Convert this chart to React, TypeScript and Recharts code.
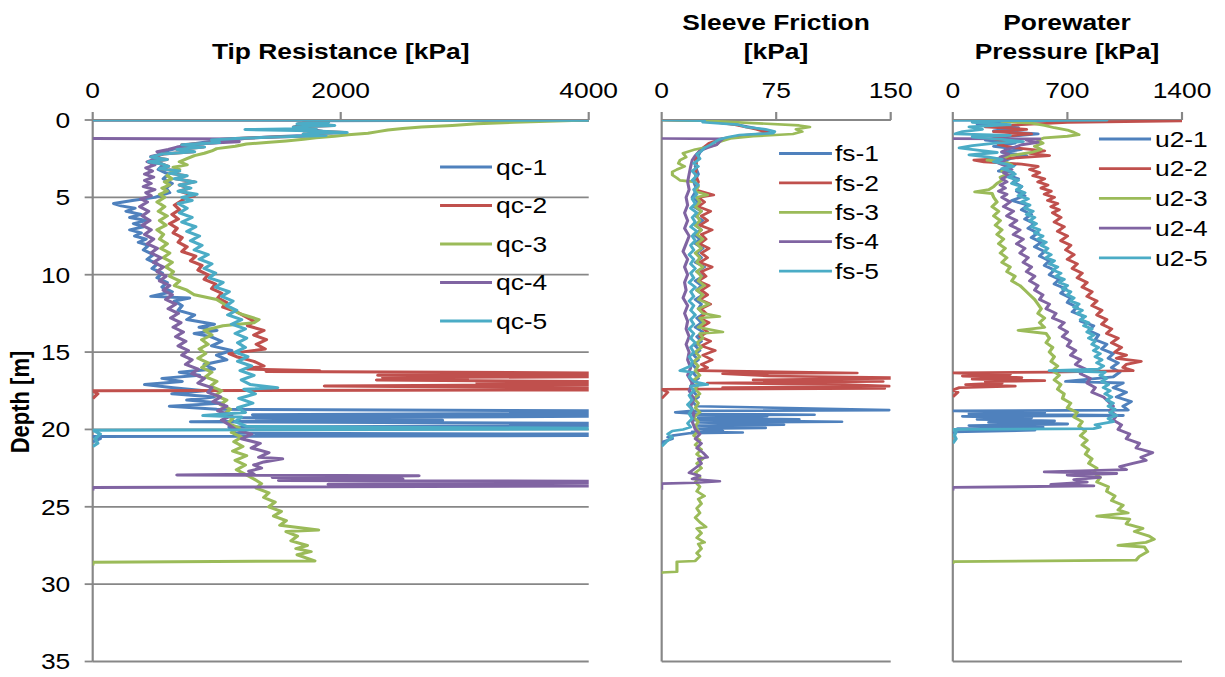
import React from "react";
import { ScatterChart, Scatter, XAxis, YAxis, CartesianGrid } from "recharts";

// the reference image is stretched horizontally, so the chart is laid out narrower and scaled in x
const SX = 1.2;
const H = 677;
const W = 1225 / SX;
const FONT = '"Liberation Sans", Arial, Helvetica, sans-serif';
const AXIS = "#878787";
const COLORS = ["#4F81BD", "#C0504D", "#9BBB59", "#8064A2", "#4BACC6"];
const DEPTH_TICKS = [0, 5, 10, 15, 20, 25, 30, 35];

type Pt = [number, number]; // [depth m, value kPa]

// ---- tip resistance qc [kPa]
const QC_TICKS = [0, 2000, 4000];
const QC_NAMES = ["qc-1", "qc-2", "qc-3", "qc-4", "qc-5"];
const qc1: Pt[] = [[0,0],[0.01,4000],[0.05,1700],[0.2,1820],[0.4,1640],[0.6,1760],[0.8,1900],[1.0,1690],[1.2,1180],[1.4,930],[1.6,760],[1.8,690],[2.0,600],[2.3,530],[2.6,500],[2.9,570],[3.2,530],[3.5,610],[3.8,570],[4.1,640],[4.4,590],[4.7,620],[5.0,500],[5.2,320],[5.4,170],[5.55,230],[5.7,340],[5.9,270],[6.1,390],[6.3,300],[6.5,430],[6.7,330],[6.9,410],[7.1,300],[7.3,390],[7.5,340],[7.7,430],[7.9,370],[8.1,450],[8.4,410],[8.7,490],[9.0,440],[9.3,520],[9.6,480],[9.9,560],[10.2,520],[10.5,600],[10.8,560],[11.1,640],[11.4,470],[11.5,780],[11.7,660],[12.0,720],[12.3,690],[12.6,820],[12.9,760],[13.2,980],[13.4,860],[13.6,1000],[13.8,820],[14.0,950],[14.3,1040],[14.6,960],[14.9,1120],[15.2,1000],[15.5,1080],[15.8,900],[16.1,980],[16.3,700],[16.5,860],[16.7,560],[16.9,720],[17.1,420],[17.3,650],[17.5,900],[17.7,640],[17.9,980],[18.1,760],[18.3,1050],[18.5,620],[18.7,1000],[18.8,4000],[18.95,4000],[19.05,1290],[19.15,4000],[19.25,1200],[19.4,2820],[19.5,790],[19.6,4000],[19.75,4000],[19.85,1100],[20.25,1150],[20.3,4000],[20.4,4000],[20.45,0],[20.6,60],[20.8,0]];
const qc2: Pt[] = [[0,0],[0.01,4000],[0.04,1750],[0.15,1880],[0.25,1660],[0.35,1940],[0.45,1620],[0.55,1790],[0.7,1740],[0.8,2030],[0.9,1700],[1.0,1870],[1.1,1470],[1.2,1150],[1.3,960],[1.45,1010],[1.6,720],[1.75,890],[1.9,680],[2.05,810],[2.2,570],[2.4,480],[2.55,600],[2.7,460],[2.85,560],[3.0,610],[3.15,550],[3.3,690],[3.45,630],[3.6,750],[3.8,670],[4.0,820],[4.2,700],[4.4,780],[4.6,700],[4.9,820],[5.0,760],[5.2,720],[5.5,660],[5.8,700],[6.1,640],[6.4,690],[6.7,620],[7.0,680],[7.3,650],[7.6,720],[7.9,690],[8.2,760],[8.5,720],[8.8,830],[9.1,790],[9.4,880],[9.7,850],[10.0,930],[10.3,900],[10.6,990],[10.9,960],[11.2,1040],[11.5,1010],[11.8,1080],[12.1,1050],[12.4,1160],[12.7,1230],[13.0,1300],[13.3,1250],[13.6,1380],[13.9,1300],[14.2,1400],[14.5,1320],[14.8,1390],[15.1,1100],[15.3,1160],[15.6,1300],[15.9,1380],[16.0,1300],[16.1,1250],[16.2,1830],[16.25,1400],[16.35,4000],[16.42,4000],[16.5,2300],[16.6,4000],[16.65,2340],[16.75,3020],[16.8,2290],[16.9,4000],[17.0,3100],[17.1,4000],[17.2,1870],[17.3,4000],[17.45,4000],[17.5,0],[17.7,40],[18.0,0]];
const qc3: Pt[] = [[0,4000],[0.15,3400],[0.25,3100],[0.35,2900],[0.45,2650],[0.55,2500],[0.65,2380],[0.75,2300],[0.85,2220],[0.95,2060],[1.05,1950],[1.15,1800],[1.25,1700],[1.35,1560],[1.45,1400],[1.55,1240],[1.7,1150],[1.85,1000],[2.0,960],[2.15,900],[2.3,820],[2.5,760],[2.7,700],[2.9,760],[3.05,650],[3.2,700],[3.4,630],[3.6,600],[3.8,640],[4.0,580],[4.2,620],[4.4,560],[4.6,600],[4.8,540],[5.0,580],[5.3,520],[5.6,580],[5.9,530],[6.2,600],[6.5,540],[6.8,590],[7.1,520],[7.4,570],[7.7,540],[8.0,600],[8.3,550],[8.6,620],[8.9,570],[9.2,640],[9.5,590],[9.8,650],[10.1,620],[10.4,700],[10.7,660],[11.0,760],[11.3,820],[11.6,1000],[11.9,1060],[12.2,1120],[12.5,1180],[12.7,1260],[12.9,1340],[13.1,1300],[13.3,1050],[13.6,900],[13.9,960],[14.2,880],[14.5,930],[14.8,860],[15.1,910],[15.4,850],[15.7,930],[16.0,880],[16.3,960],[16.6,910],[16.9,1000],[17.2,950],[17.5,1040],[17.8,990],[18.1,1080],[18.4,1030],[18.7,1110],[19.0,1060],[19.3,1130],[19.6,1090],[19.9,1180],[20.2,1120],[20.5,1200],[20.8,1140],[21.1,1210],[21.4,1130],[21.7,1240],[22.0,1150],[22.3,1230],[22.6,1160],[22.9,1230],[23.2,1300],[23.5,1360],[23.8,1320],[24.1,1420],[24.4,1380],[24.7,1470],[25.0,1420],[25.3,1520],[25.6,1460],[25.9,1560],[26.2,1510],[26.5,1820],[26.6,1560],[26.9,1650],[27.2,1600],[27.5,1730],[27.7,1640],[27.9,1760],[28.1,1650],[28.3,1720],[28.5,1790],[28.58,0],[28.8,0]];
const qc4: Pt[] = [[1.2,0],[1.22,1210],[1.3,1020],[1.4,1180],[1.5,920],[1.6,800],[1.75,680],[1.9,610],[2.05,520],[2.2,560],[2.35,470],[2.5,510],[2.7,440],[2.9,500],[3.1,430],[3.3,480],[3.5,420],[3.7,490],[3.9,420],[4.1,470],[4.3,410],[4.5,500],[4.7,430],[4.9,470],[5.1,390],[5.3,440],[5.6,380],[5.9,450],[6.2,400],[6.5,460],[6.8,400],[7.1,470],[7.4,420],[7.7,490],[8.0,440],[8.3,520],[8.6,470],[8.9,550],[9.2,490],[9.5,570],[9.8,520],[10.1,590],[10.4,540],[10.7,620],[11.0,570],[11.3,640],[11.6,590],[11.9,670],[12.2,610],[12.5,690],[12.8,630],[13.1,710],[13.4,650],[13.7,730],[14.0,670],[14.3,750],[14.6,690],[14.9,770],[15.2,720],[15.5,800],[15.8,750],[16.1,850],[16.4,800],[16.7,900],[17.0,850],[17.3,960],[17.6,930],[17.9,1030],[18.2,970],[18.5,1080],[18.8,1010],[19.1,1120],[19.4,1040],[19.7,1100],[20.0,1150],[20.3,1280],[20.6,1200],[20.9,1350],[21.2,1280],[21.5,1420],[21.8,1340],[21.9,1530],[22.1,1380],[22.3,1300],[22.5,1360],[22.7,1260],[22.9,1300],[22.95,680],[23.0,2630],[23.1,1450],[23.2,2500],[23.3,1500],[23.35,4000],[23.45,4000],[23.55,1900],[23.65,4000],[23.75,0],[23.95,0]];
const qc5: Pt[] = [[0,0],[0.01,4000],[0.04,1750],[0.15,1900],[0.25,1650],[0.35,1950],[0.45,1620],[0.55,1800],[0.62,1230],[0.7,1760],[0.8,2050],[0.9,1700],[1.0,1880],[1.1,1480],[1.2,1150],[1.3,960],[1.45,1020],[1.6,720],[1.75,900],[1.9,680],[2.05,820],[2.2,560],[2.4,470],[2.55,600],[2.7,450],[2.85,560],[3.0,610],[3.15,540],[3.3,700],[3.45,620],[3.6,760],[3.8,660],[4.0,830],[4.2,700],[4.4,790],[4.6,690],[4.8,840],[5.0,720],[5.2,800],[5.4,690],[5.7,760],[6.0,700],[6.3,800],[6.6,720],[6.9,830],[7.2,760],[7.5,860],[7.8,790],[8.1,880],[8.4,820],[8.7,930],[9.0,860],[9.3,960],[9.6,900],[9.9,990],[10.2,940],[10.5,1050],[10.8,990],[11.1,1100],[11.4,1040],[11.7,1130],[12.0,1080],[12.3,1160],[12.6,1090],[12.9,1200],[13.2,1120],[13.5,1230],[13.8,1150],[14.1,1240],[14.4,1170],[14.7,1230],[15.0,1150],[15.3,1250],[15.6,1170],[15.9,1280],[16.2,1190],[16.5,1300],[16.8,1200],[17.1,1270],[17.3,1490],[17.4,1220],[17.7,1310],[18.0,1180],[18.3,1290],[18.6,1170],[18.9,1230],[19.1,890],[19.2,1200],[19.5,1150],[19.8,1240],[19.93,4000],[19.98,4000],[20.05,0],[20.3,60],[20.6,20],[20.9,40],[21.1,0]];

// ---- sleeve friction fs [kPa]
const FS_TICKS = [0, 75, 150];
const FS_NAMES = ["fs-1", "fs-2", "fs-3", "fs-4", "fs-5"];
const fs1: Pt[] = [[0,0],[0.05,28],[0.3,50],[0.6,65],[0.85,72],[1.0,55],[1.2,42],[1.5,33],[1.8,28],[2.1,25],[2.5,23],[3.0,22],[3.5,24],[4.0,21],[4.5,23],[5.0,20],[5.3,24],[5.6,21],[5.9,26],[6.2,22],[6.5,27],[6.8,22],[7.1,26],[7.4,21],[7.7,25],[8.0,22],[8.3,27],[8.6,23],[8.9,26],[9.2,22],[9.5,28],[9.8,23],[10.1,27],[10.4,22],[10.7,26],[11.0,23],[11.3,27],[11.6,22],[11.9,26],[12.2,24],[12.5,28],[12.8,23],[13.1,26],[13.4,22],[13.7,27],[14.0,23],[14.3,26],[14.6,22],[14.9,25],[15.2,21],[15.5,24],[15.8,20],[16.1,23],[16.4,21],[16.7,24],[17.0,20],[17.3,23],[17.6,21],[17.9,24],[18.2,20],[18.5,23],[18.75,149],[18.8,20],[18.9,9],[19.0,25],[19.05,100],[19.1,22],[19.15,69],[19.25,24],[19.35,90],[19.4,20],[19.5,118],[19.55,25],[19.7,80],[19.75,22],[19.9,68],[19.95,24],[20.1,40],[20.15,20],[20.2,53],[20.25,18],[20.4,7],[20.5,4],[20.6,7],[20.8,1],[21.0,0]];
const fs2: Pt[] = [[0,0],[0.05,27],[0.3,48],[0.6,62],[0.85,70],[1.0,52],[1.2,40],[1.5,31],[1.8,27],[2.1,24],[2.5,22],[3.0,23],[3.5,22],[4.0,24],[4.5,22],[4.85,34],[5.0,24],[5.3,28],[5.6,24],[5.9,32],[6.2,26],[6.5,30],[6.8,25],[7.1,33],[7.4,26],[7.7,29],[8.0,25],[8.3,31],[8.6,26],[8.9,30],[9.2,25],[9.5,33],[9.8,26],[10.1,29],[10.4,24],[10.7,31],[11.0,26],[11.3,30],[11.6,25],[11.9,32],[12.2,26],[12.5,29],[12.8,25],[13.1,31],[13.4,26],[13.7,30],[14.0,25],[14.3,32],[14.6,26],[14.9,35],[15.2,27],[15.5,33],[15.8,26],[16.0,30],[16.2,24],[16.35,128],[16.4,40],[16.55,70],[16.65,150],[16.7,150],[16.8,60],[16.9,145],[17.0,30],[17.1,120],[17.2,149],[17.3,40],[17.35,146],[17.4,0],[17.6,4],[18.0,0]];
const fs3: Pt[] = [[0,0],[0.05,30],[0.2,60],[0.35,90],[0.45,97],[0.6,88],[0.75,92],[0.9,86],[1.05,60],[1.2,45],[1.4,38],[1.6,36],[1.75,30],[1.9,22],[2.15,14],[2.4,16],[2.6,12],[2.8,11],[3.0,15],[3.2,10],[3.35,7],[3.55,7],[3.75,10],[3.9,12],[4.0,22],[4.3,24],[4.6,22],[4.85,30],[5.0,23],[5.3,25],[5.6,22],[5.9,26],[6.2,23],[6.5,25],[6.8,22],[7.1,26],[7.4,23],[7.7,27],[8.0,23],[8.3,26],[8.6,22],[8.9,25],[9.2,23],[9.5,27],[9.8,23],[10.1,26],[10.4,24],[10.7,28],[11.0,23],[11.3,27],[11.6,24],[11.9,31],[12.2,24],[12.5,27],[12.7,38],[12.8,25],[13.1,28],[13.4,24],[13.7,40],[13.8,25],[14.1,27],[14.4,23],[14.7,26],[15.0,22],[15.3,25],[15.6,21],[15.9,24],[16.2,22],[16.5,25],[16.8,21],[17.1,24],[17.4,22],[17.7,25],[18.0,21],[18.3,24],[18.6,22],[18.9,25],[19.2,21],[19.5,24],[19.8,22],[20.1,24],[20.4,21],[20.7,25],[21.0,22],[21.3,26],[21.6,23],[21.9,27],[22.2,23],[22.5,26],[22.8,22],[23.1,25],[23.4,22],[23.7,25],[24.0,23],[24.3,28],[24.5,24],[24.8,26],[25.1,23],[25.4,25],[25.7,22],[26.0,25],[26.3,29],[26.4,23],[26.7,26],[27.0,23],[27.3,28],[27.4,24],[27.7,26],[28.0,23],[28.2,25],[28.5,22],[28.55,10],[29.2,10],[29.25,0],[29.35,0]];
const fs4: Pt[] = [[1.2,0],[1.22,40],[1.4,38],[1.6,36],[1.8,30],[2.0,25],[2.3,22],[2.6,20],[3.0,19],[3.5,18],[4.0,17],[4.5,18],[5.0,16],[5.5,17],[6.0,15],[6.5,17],[7.0,15],[7.5,18],[8.0,16],[8.5,14],[9.0,17],[9.5,15],[10.0,17],[10.5,15],[11.0,16],[11.5,14],[12.0,17],[12.5,15],[13.0,17],[13.5,16],[14.0,18],[14.5,16],[15.0,18],[15.5,17],[16.0,19],[16.5,17],[17.0,20],[17.5,18],[18.0,21],[18.5,19],[19.0,21],[19.5,20],[20.0,22],[20.3,25],[20.6,22],[20.9,26],[21.2,23],[21.5,27],[21.8,30],[21.9,24],[22.2,26],[22.5,22],[22.8,18],[23.0,25],[23.2,20],[23.35,38],[23.45,22],[23.5,0],[23.9,0]];
const fs5: Pt[] = [[0,0],[0.05,28],[0.15,27],[0.3,50],[0.45,55],[0.6,68],[0.75,74],[0.85,73],[0.97,51],[1.1,44],[1.25,38],[1.4,35],[1.6,32],[1.8,28],[2.0,26],[2.2,23],[2.5,25],[2.8,21],[3.0,24],[3.3,20],[3.6,23],[3.9,20],[4.2,24],[4.5,21],[4.8,23],[5.1,20],[5.4,22],[5.7,19],[6.0,23],[6.3,20],[6.6,22],[6.9,19],[7.2,23],[7.5,20],[7.8,22],[8.1,19],[8.4,21],[8.7,18],[9.0,21],[9.3,19],[9.6,22],[9.9,19],[10.2,21],[10.5,18],[10.8,22],[11.1,19],[11.4,21],[11.7,18],[12.0,21],[12.3,19],[12.6,22],[12.9,19],[13.2,21],[13.5,18],[13.8,21],[14.1,19],[14.4,22],[14.7,19],[15.0,21],[15.3,18],[15.6,20],[15.9,19],[16.2,12],[16.3,20],[16.6,18],[16.9,21],[17.1,30],[17.2,19],[17.5,21],[17.8,18],[18.1,20],[18.4,17],[18.7,20],[19.0,18],[19.3,20],[19.6,17],[19.85,19],[20.0,14],[20.1,7],[20.3,4],[20.5,7],[20.8,3],[21.1,0]];

// ---- porewater pressure u2 [kPa]
const U2_TICKS = [0, 700, 1400];
const U2_NAMES = ["u2-1", "u2-2", "u2-3", "u2-4", "u2-5"];
const u21: Pt[] = [[0,0],[0.02,900],[0.1,300],[0.3,150],[0.5,400],[0.7,250],[0.9,520],[1.1,300],[1.3,200],[1.5,380],[1.7,250],[1.9,420],[2.1,300],[2.3,450],[2.5,350],[2.7,300],[2.9,380],[3.1,330],[3.3,280],[3.4,370],[3.6,350],[3.8,400],[4.0,370],[4.3,420],[4.6,390],[4.9,440],[5.2,360],[5.5,460],[5.8,420],[6.1,480],[6.4,440],[6.7,500],[7.0,460],[7.3,520],[7.6,480],[7.9,540],[8.2,500],[8.5,560],[8.8,530],[9.1,590],[9.4,560],[9.7,620],[10.0,590],[10.3,650],[10.6,620],[10.9,690],[11.2,660],[11.5,720],[11.8,700],[12.1,760],[12.4,730],[12.7,800],[13.0,780],[13.3,860],[13.6,830],[13.9,890],[14.2,870],[14.5,940],[14.8,910],[15.1,980],[15.4,950],[15.7,1010],[16.0,970],[16.3,1020],[16.6,980],[16.9,690],[17.0,1040],[17.3,980],[17.6,1060],[17.9,1000],[18.2,1090],[18.5,1040],[18.75,1070],[18.8,0],[18.9,560],[19.0,100],[19.1,1040],[19.15,60],[19.25,480],[19.35,150],[19.45,620],[19.55,220],[19.65,700],[19.75,100],[19.85,550],[19.95,30],[20.05,500],[20.15,0],[20.3,0]];
const u22: Pt[] = [[0,1400],[0.05,1400],[0.15,700],[0.3,420],[0.45,200],[0.6,450],[0.75,250],[0.9,480],[1.05,300],[1.2,250],[1.4,330],[1.6,280],[1.8,380],[2.0,560],[2.15,470],[2.3,590],[2.45,380],[2.6,130],[2.7,190],[2.85,420],[3.0,520],[3.2,470],[3.4,530],[3.6,490],[3.8,560],[4.0,520],[4.2,580],[4.4,540],[4.6,600],[4.8,560],[5.0,620],[5.2,580],[5.4,640],[5.6,600],[5.8,650],[6.0,610],[6.3,660],[6.6,620],[6.9,680],[7.2,640],[7.5,700],[7.8,660],[8.1,720],[8.4,690],[8.7,740],[9.0,700],[9.3,760],[9.6,730],[9.9,790],[10.2,760],[10.5,820],[10.8,790],[11.1,850],[11.4,820],[11.7,880],[12.0,850],[12.3,910],[12.6,880],[12.9,940],[13.2,910],[13.5,970],[13.8,940],[14.1,1010],[14.4,970],[14.7,1030],[15.0,990],[15.2,1060],[15.4,1000],[15.6,1150],[15.8,1060],[16.0,1040],[16.2,1100],[16.3,600],[16.35,0],[16.45,350],[16.55,60],[16.65,420],[16.75,120],[16.85,560],[16.9,200],[17.0,300],[17.1,80],[17.2,380],[17.3,40],[17.45,0],[17.6,30],[17.9,0]];
const u23: Pt[] = [[0,450],[0.1,300],[0.2,480],[0.35,560],[0.5,620],[0.65,700],[0.8,740],[0.95,770],[1.05,700],[1.15,560],[1.3,520],[1.5,550],[1.7,500],[1.9,540],[2.1,480],[2.3,350],[2.5,300],[2.6,210],[2.75,330],[2.9,360],[3.1,320],[3.3,300],[3.5,330],[3.7,290],[3.9,300],[4.1,270],[4.3,250],[4.5,220],[4.65,135],[4.75,240],[5.0,250],[5.3,270],[5.6,240],[5.9,280],[6.2,250],[6.5,290],[6.8,260],[7.1,300],[7.4,270],[7.7,310],[8.0,280],[8.3,320],[8.6,290],[8.9,330],[9.2,300],[9.5,350],[9.8,330],[10.1,380],[10.4,360],[10.7,410],[11.0,440],[11.3,470],[11.6,500],[11.9,520],[12.2,540],[12.5,520],[12.8,560],[13.1,530],[13.4,560],[13.6,400],[13.8,570],[14.1,590],[14.4,570],[14.7,610],[15.0,590],[15.3,620],[15.6,600],[15.9,640],[16.2,610],[16.5,650],[16.8,620],[17.1,660],[17.4,640],[17.7,680],[18.0,670],[18.3,720],[18.6,700],[18.9,760],[19.2,740],[19.5,790],[19.8,770],[20.1,810],[20.4,780],[20.7,820],[21.0,790],[21.3,830],[21.6,810],[21.9,850],[22.2,830],[22.5,880],[22.8,860],[23.1,900],[23.4,880],[23.7,950],[24.0,940],[24.3,990],[24.6,970],[24.9,1040],[25.2,1010],[25.4,1070],[25.6,880],[25.8,1080],[26.1,1060],[26.4,1160],[26.6,1110],[26.9,1200],[27.1,1230],[27.3,1180],[27.5,1010],[27.6,1170],[27.9,1190],[28.2,1140],[28.45,1120],[28.55,0],[28.7,0]];
const u24: Pt[] = [[1.2,0],[1.22,530],[1.3,450],[1.45,520],[1.6,420],[1.75,380],[1.9,330],[2.05,300],[2.2,340],[2.4,290],[2.6,320],[2.8,280],[3.0,330],[3.2,360],[3.4,310],[3.6,340],[3.8,300],[4.0,330],[4.2,290],[4.4,320],[4.6,280],[4.8,330],[5.0,300],[5.3,350],[5.6,310],[5.9,370],[6.2,330],[6.5,390],[6.8,350],[7.1,410],[7.4,370],[7.7,430],[8.0,390],[8.3,440],[8.6,410],[8.9,460],[9.2,430],[9.5,480],[9.8,450],[10.1,500],[10.4,470],[10.7,520],[11.0,500],[11.3,550],[11.6,530],[11.9,590],[12.2,570],[12.5,630],[12.8,610],[13.1,680],[13.4,650],[13.7,700],[14.0,670],[14.3,720],[14.6,700],[14.9,750],[15.2,720],[15.5,780],[15.8,750],[16.1,810],[16.4,780],[16.7,840],[17.0,820],[17.3,870],[17.6,850],[17.9,920],[18.2,950],[18.5,980],[18.8,960],[19.1,1000],[19.4,980],[19.7,1030],[20.0,1010],[20.3,1080],[20.6,1060],[20.9,1140],[21.2,1120],[21.5,1220],[21.8,1150],[22.0,1180],[22.2,1100],[22.4,1020],[22.6,1060],[22.75,560],[22.85,1000],[22.95,700],[23.1,900],[23.25,740],[23.4,820],[23.55,600],[23.65,860],[23.75,0],[23.95,0]];
const u25: Pt[] = [[0,0],[0.01,940],[0.05,200],[0.15,120],[0.3,350],[0.45,100],[0.6,180],[0.75,60],[0.9,15],[1.0,350],[1.1,120],[1.25,300],[1.4,430],[1.5,260],[1.65,120],[1.8,40],[1.95,150],[2.1,270],[2.25,100],[2.4,220],[2.55,300],[2.7,250],[2.85,330],[3.0,370],[3.15,300],[3.3,350],[3.5,380],[3.7,340],[3.9,400],[4.1,360],[4.3,420],[4.5,390],[4.7,440],[4.9,400],[5.1,460],[5.3,420],[5.5,470],[5.7,440],[5.9,490],[6.1,450],[6.3,500],[6.5,470],[6.7,510],[6.9,480],[7.1,530],[7.3,500],[7.5,550],[7.7,520],[7.9,570],[8.1,540],[8.3,580],[8.5,560],[8.7,600],[8.9,570],[9.1,620],[9.3,590],[9.5,640],[9.7,610],[9.9,660],[10.1,630],[10.3,680],[10.5,650],[10.7,700],[10.9,670],[11.1,720],[11.3,700],[11.5,740],[11.7,720],[11.9,770],[12.1,740],[12.3,790],[12.5,760],[12.7,810],[12.9,780],[13.1,830],[13.3,800],[13.5,850],[13.7,820],[13.9,860],[14.1,830],[14.3,870],[14.5,850],[14.7,890],[14.9,860],[15.1,900],[15.3,870],[15.5,910],[15.7,880],[15.9,920],[16.1,890],[16.2,590],[16.3,930],[16.5,900],[16.7,940],[16.9,910],[17.1,950],[17.3,920],[17.5,960],[17.7,930],[17.9,970],[18.1,940],[18.3,980],[18.5,950],[18.7,990],[18.9,960],[19.1,1000],[19.3,950],[19.5,980],[19.7,870],[19.85,900],[19.95,860],[20.0,0],[20.15,20],[20.4,10],[20.6,20],[20.9,0]];

const tickText = { fill: "#000", fontSize: 22, fontFamily: FONT };
const axisStroke = { stroke: AXIS, strokeWidth: 1.8 };

const PANELS = [
  { key: "qc", left: 0, width: 530, yWidth: 60, depthLabels: true, ticks: QC_TICKS, names: QC_NAMES, lineW: 3,
    series: [qc1, qc2, qc3, qc4, qc5], margin: { top: 80, right: 39.4, bottom: 15.5, left: 17.25 } },
  { key: "fs", left: 520, width: 262, yWidth: 20, depthLabels: false, ticks: FS_TICKS, names: FS_NAMES, lineW: 2.6,
    series: [fs1, fs2, fs3, fs4, fs5], margin: { top: 80, right: 39.75, bottom: 15.5, left: 11.4 } },
  { key: "u2", left: 770, width: 250, yWidth: 20, depthLabels: false, ticks: U2_TICKS, names: U2_NAMES, lineW: 2.8,
    series: [u21, u22, u23, u24, u25], margin: { top: 80, right: 35, bottom: 15.5, left: 4 } },
];

// legend placement (chart-space x, page y)
const LEGENDS = [
  { x1: 366.7, x2: 410, tx: 413.3, y0: 167, dy: 38.5 },
  { x1: 649.2, x2: 693.3, tx: 695.8, y0: 153.5, dy: 29.4 },
  { x1: 915.8, x2: 959.2, tx: 962.5, y0: 139, dy: 29.7 },
];

const noDot = () => <g />;

function Panel({ p }: { p: (typeof PANELS)[number] }) {
  const max = p.ticks[p.ticks.length - 1];
  return (
    <div style={{ position: "absolute", left: p.left, top: 0 }}>
      <ScatterChart width={p.width} height={H} margin={p.margin}>
        <CartesianGrid vertical={false} stroke={AXIS} strokeWidth={1.8} />
        <XAxis type="number" dataKey="v" orientation="top" domain={[0, max]} ticks={p.ticks} allowDataOverflow
          interval={0} height={40} tickSize={8} tickMargin={14} axisLine={axisStroke} tickLine={axisStroke} tick={tickText} />
        <YAxis type="number" dataKey="d" reversed domain={[0, 35]} ticks={DEPTH_TICKS} allowDataOverflow
          interval={0} width={p.yWidth} tickSize={6.7} tickMargin={12} axisLine={axisStroke} tickLine={axisStroke}
          tick={p.depthLabels ? tickText : false} />
        {p.series.map((s, i) => (
          <Scatter key={p.names[i]} name={p.names[i]} data={s.map(([d, v]) => ({ d, v }))}
            line={{ stroke: COLORS[i], strokeWidth: p.lineW, strokeLinejoin: "round" }} lineType="joint" shape={noDot}
            fill={COLORS[i]} isAnimationActive={false} />
        ))}
      </ScatterChart>
    </div>
  );
}

export default function App() {
  return (
    <div style={{ position: "absolute", left: 0, top: 0, width: 1225, height: H, overflow: "hidden", background: "#fff" }}>
      <div style={{ position: "absolute", left: 0, top: 0, width: W, height: H, transform: `scaleX(${SX})`, transformOrigin: "0 0" }}>
        {PANELS.map((p) => <Panel key={p.key} p={p} />)}
        <svg width={W} height={H} style={{ position: "absolute", left: 0, top: 0, pointerEvents: "none" }} fontFamily={FONT}>
          <g fontWeight="bold" fontSize={22} textAnchor="middle" fill="#000">
            <text x={283.9} y={59}>Tip Resistance [kPa]</text>
            <text x={646.7} y={30}>Sleeve Friction</text>
            <text x={646.7} y={59}>[kPa]</text>
            <text x={889.2} y={30.5}>Porewater</text>
            <text x={889.2} y={59.5}>Pressure [kPa]</text>
            <text transform="translate(23.75,402) rotate(-90)">Depth [m]</text>
          </g>
          {PANELS.map((p, k) => {
            const lg = LEGENDS[k];
            return (
              <g key={p.key}>
                {p.names.map((n, i) => {
                  const y = lg.y0 + lg.dy * i;
                  return (
                    <g key={n}>
                      <line x1={lg.x1} x2={lg.x2} y1={y} y2={y} stroke={COLORS[i]} strokeWidth={2.8} />
                      <text x={lg.tx} y={y + 7.8} fontSize={22} fill="#000">{n}</text>
                    </g>
                  );
                })}
              </g>
            );
          })}
        </svg>
      </div>
    </div>
  );
}
